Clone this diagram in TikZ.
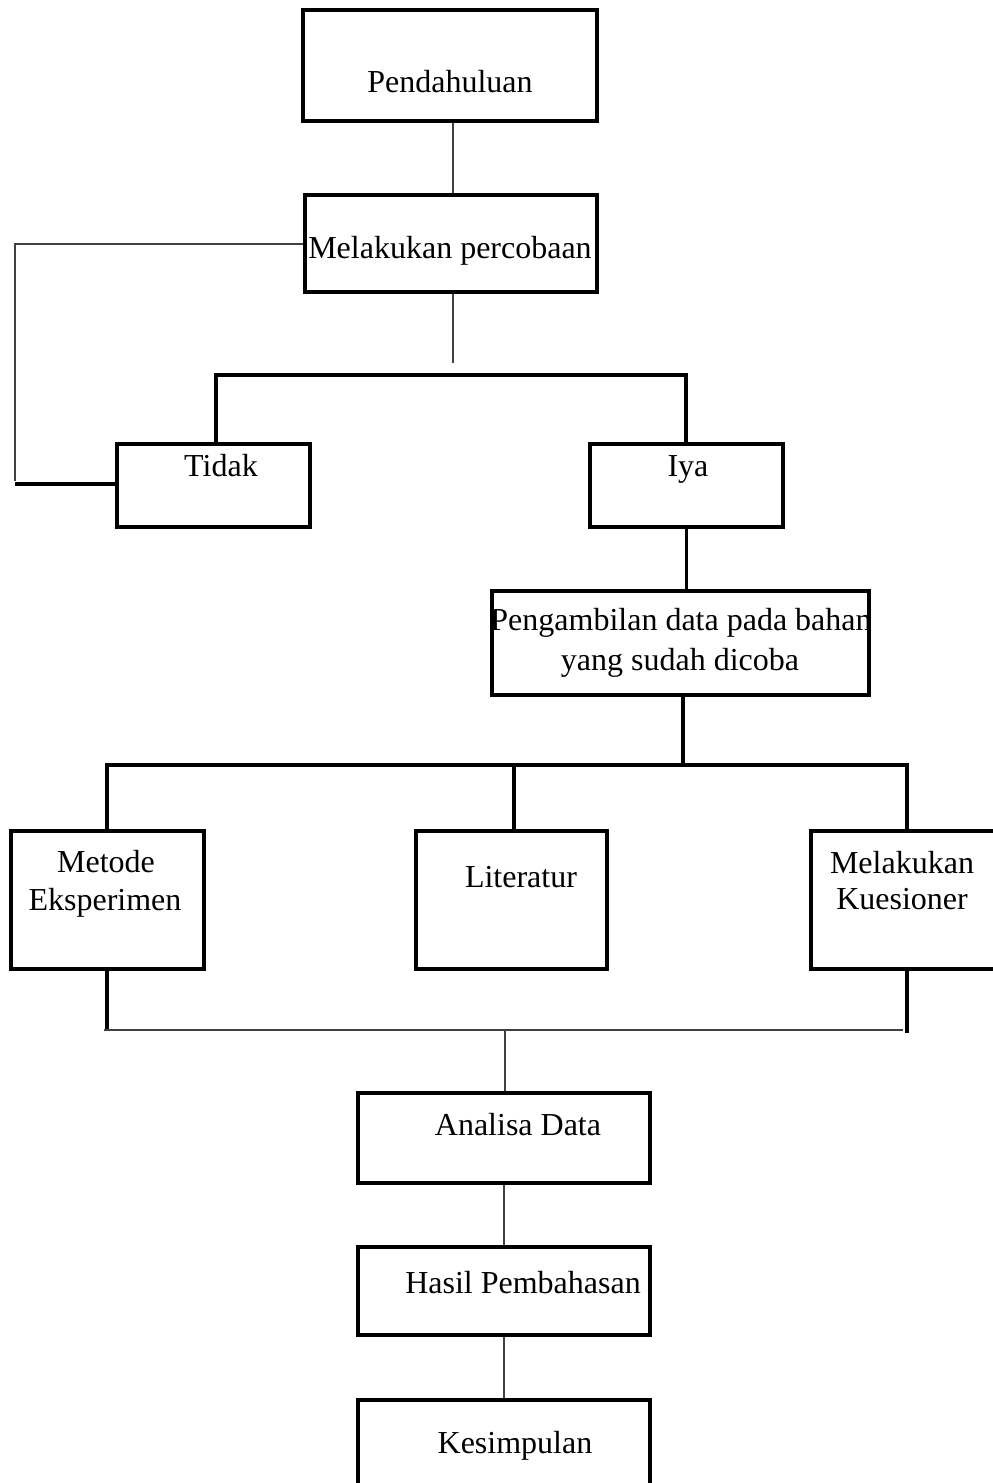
\documentclass[tikz,border=0pt]{standalone}
\usepackage{fontspec}
\setmainfont{Liberation Serif}
\begin{document}
\begin{tikzpicture}[x=0.5pt,y=-0.5pt,
  box/.style={draw=black,line width=1.6pt,rectangle,inner sep=0pt},
  blk/.style={draw=black,line width=1.6pt},
  gry/.style={draw=black!75,line width=1pt},
  lbl/.style={anchor=base,inner sep=0pt,font=\fontsize{16}{19.5}\selectfont}]
\useasboundingbox[fill=white] (0,0) rectangle (992,1483);
% boxes
\node[box,minimum width=147pt,minimum height=55.5pt] (pend) at (450,65.5) {};
\node[box,minimum width=146pt,minimum height=48.5pt] (perc) at (451,243.5) {};
\node[box,minimum width=96.5pt,minimum height=41.5pt] (tidak) at (213.5,485.5) {};
\node[box,minimum width=96.5pt,minimum height=41.5pt] (iya) at (686.5,485.5) {};
\node[box,minimum width=188.5pt,minimum height=52pt] (ambil) at (680.5,643) {};
\node[box,minimum width=96.5pt,minimum height=69pt] (metode) at (107.5,900) {};
\node[box,minimum width=95.5pt,minimum height=69pt] (lit) at (511.5,900) {};
\node[box,minimum width=92pt,minimum height=69pt] (kues) at (903,900) {};
\node[box,minimum width=146pt,minimum height=45pt] (analisa) at (504,1138) {};
\node[box,minimum width=146pt,minimum height=44pt] (hasil) at (504,1291) {};
\node[box,minimum width=146pt,minimum height=45pt] (kesim) at (504,1445) {};
% labels
\node[lbl] (tpend) at (450,92) {Pendahuluan};
\node[lbl] (tperc) at (450,258) {Melakukan percobaan};
\node[lbl] (ttidak) at (221,476) {Tidak};
\node[lbl] (tiya) at (688,476) {Iya};
\node[lbl] (tambil1) at (681,630) {Pengambilan data pada bahan};
\node[lbl] (tambil2) at (680,670) {yang sudah dicoba};
\node[lbl] (tmet1) at (106,872) {Metode};
\node[lbl] (tmet2) at (105,910) {Eksperimen};
\node[lbl] (tlit) at (521,887) {Literatur};
\node[lbl] (tkue1) at (902,873) {Melakukan};
\node[lbl] (tkue2) at (902,909) {Kuesioner};
\node[lbl] (tana) at (518,1135) {Analisa Data};
\node[lbl] (thas) at (523,1293) {Hasil Pembahasan};
\node[lbl] (tkes) at (515,1453) {Kesimpulan};
% coordinates
\coordinate (c1) at (453,0);
\coordinate (stub) at (453,363);
\coordinate (b1L) at (216,375);
\coordinate (b1R) at (686,375);
\coordinate (fbT) at (15,243.5);
\coordinate (fbB) at (15,484);
\coordinate (fbG) at (15,481);
\coordinate (b2) at (683,765);
\coordinate (b2L) at (107,765);
\coordinate (b2M) at (514,765);
\coordinate (b2R) at (907,765);
\coordinate (b3L) at (107,1029);
\coordinate (b3R) at (907,1033);
\coordinate (g3L) at (104,1030);
\coordinate (g3R) at (903,1030);
\coordinate (g3M) at (505,1030);
% connectors
\draw[gry] (c1 |- pend.south) -- (c1 |- perc.north);
\draw[gry] (c1 |- perc.south) -- (stub);
\draw[blk] (b1L |- tidak.north) -- (b1L) -- (b1R) -- (b1R |- iya.north);
\draw[gry] (perc.west) -- (fbT) -- (fbG);
\draw[blk] (fbB) -- (fbB -| tidak.west);
\draw[blk] (iya.south) -- (iya.south |- ambil.north);
\draw[blk] (b2 |- ambil.south) -- (b2);
\draw[blk] (b2L |- metode.north) -- (b2L) -- (b2R) -- (b2R |- kues.north);
\draw[blk] (b2M) -- (b2M |- lit.north);
\draw[blk] (b3L |- metode.south) -- (b3L);
\draw[blk] (b3R |- kues.south) -- (b3R);
\draw[gry] (g3L) -- (g3R);
\draw[gry] (g3M) -- (g3M |- analisa.north);
\draw[gry] (analisa.south) -- (hasil.north);
\draw[gry] (hasil.south) -- (kesim.north);
\end{tikzpicture}
\end{document}
